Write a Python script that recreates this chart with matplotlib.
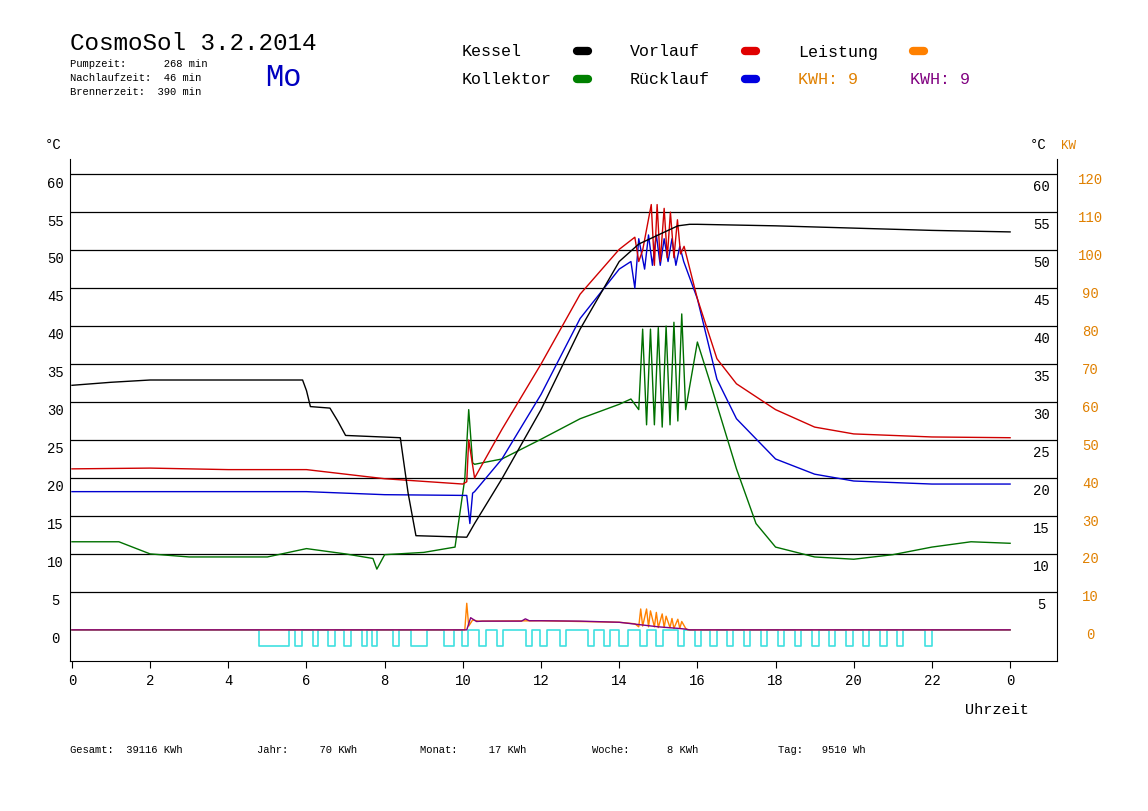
import matplotlib.pyplot as plt

plt.rcParams['font.family'] = ['Liberation Mono', 'DejaVu Sans Mono']

# Temperaturen (°C) über Uhrzeit (h)
kessel_t = [0, 1, 2, 4, 5.9, 6.0, 6.1, 6.6, 6.8, 7.0, 8.4, 8.6, 8.8, 10.1, 10.3, 11, 12, 13, 14, 14.5, 15, 15.5, 15.8, 16, 18, 20, 22, 24]
kessel_v = [32.2, 32.6, 32.9, 32.9, 32.9, 31.5, 29.4, 29.2, 27.5, 25.6, 25.3, 18, 12.4, 12.2, 14.0, 19.9, 29.0, 39.6, 48.5, 50.8, 52.0, 53.2, 53.4, 53.4, 53.2, 52.9, 52.6, 52.4]

vorlauf_t = [0, 2, 4, 6, 8, 10, 10.1, 10.15, 10.3, 11, 12, 13, 14, 14.4, 14.5, 14.6, 14.82, 14.9, 14.97, 15.05, 15.15, 15.23, 15.31, 15.4, 15.49, 15.57, 15.66, 16, 16.5, 17, 18, 19, 20, 22, 24]
vorlauf_v = [21.2, 21.3, 21.1, 21.1, 19.9, 19.2, 19.5, 25.0, 20.0, 26.4, 35.0, 44.2, 50.1, 51.7, 48.5, 50, 56.0, 48.0, 56.0, 48.5, 55.5, 49, 55.0, 49, 54.0, 49.5, 50.5, 43.6, 35.7, 32.4, 29.0, 26.7, 25.8, 25.4, 25.3]

ruecklauf_t = [0, 6, 8, 10.1, 10.18, 10.25, 10.3, 11, 12, 13, 14, 14.3, 14.4, 14.5, 14.65, 14.75, 14.85, 14.95, 15.05, 15.15, 15.25, 15.35, 15.45, 15.55, 15.65, 16, 16.5, 17, 18, 19, 20, 22, 24]
ruecklauf_v = [18.2, 18.2, 17.8, 17.7, 14.0, 18.0, 18.2, 22.5, 31.0, 41.0, 47.5, 48.5, 45.0, 51.5, 47.5, 52.0, 48.0, 52.0, 48.0, 51.5, 48.5, 51.5, 48.0, 50.5, 48.5, 43.6, 33.0, 27.8, 22.5, 20.5, 19.6, 19.2, 19.2]

kollektor_t = [0, 1.2, 2, 3, 5, 6, 7, 7.7, 7.8, 8, 9, 9.8, 10.05, 10.15, 10.25, 10.3, 11, 12, 13, 14, 14.3, 14.5, 14.6, 14.7, 14.8, 14.9, 15.0, 15.1, 15.2, 15.3, 15.4, 15.5, 15.6, 15.7, 16, 16.3, 17, 17.5, 18, 19, 20, 21, 22, 23, 24]
kollektor_v = [11.6, 11.6, 10.0, 9.6, 9.6, 10.7, 10.0, 9.4, 8.0, 9.9, 10.2, 10.9, 19.9, 29.0, 22.0, 21.8, 22.5, 25.1, 27.8, 29.7, 30.4, 29.0, 39.6, 27.0, 39.6, 27.0, 39.8, 26.7, 40.0, 27.0, 40.5, 27.5, 41.6, 29.0, 37.9, 33.0, 21.2, 14.0, 10.9, 9.6, 9.3, 9.9, 10.9, 11.6, 11.4]

# Leistung (KW) und kWh-Verlauf, rechte Achse
leistung_t = [0, 10.05, 10.1, 10.15, 10.25, 10.4, 12, 14, 14.4, 14.5, 14.55, 14.6, 14.7, 14.75, 14.8, 14.9, 14.95, 15.0, 15.1, 15.15, 15.2, 15.3, 15.35, 15.4, 15.5, 15.55, 15.6, 15.7, 15.75, 24]
leistung_v = [0, 0, 7.0, 1.0, 2.6, 2.3, 2.4, 2.0, 1.6, 0.8, 5.5, 1.0, 5.5, 0.8, 5.0, 0.8, 4.6, 0.6, 4.2, 0.6, 3.6, 0.6, 3.0, 0.4, 2.8, 0.4, 2.2, 0.4, 0, 0]
kwh_t = [0, 10.1, 10.2, 10.35, 10.5, 11.5, 11.6, 11.7, 12, 13, 14, 14.5, 15, 15.5, 15.7, 15.8, 24]
kwh_v = [0, 0, 3.2, 2.2, 2.3, 2.3, 2.9, 2.4, 2.4, 2.3, 2.0, 1.4, 0.8, 0.4, 0.2, 0, 0]

# Pumpe: Einschaltintervalle (h)
pumpe_an = [(4.78, 5.55), (5.71, 5.89), (6.17, 6.30), (6.55, 6.73), (6.96, 7.14), (7.42, 7.55),
            (7.68, 7.80), (8.21, 8.37), (8.67, 9.08), (9.52, 9.77), (9.98, 10.13), (10.41, 10.59),
            (10.87, 11.03), (11.62, 11.77), (11.98, 12.15), (12.49, 12.64), (13.20, 13.36),
            (13.61, 13.77), (14.0, 14.23), (14.53, 14.71), (14.94, 15.12), (15.51, 15.66),
            (15.94, 16.10), (16.33, 16.50), (16.75, 16.92), (17.18, 17.35), (17.62, 17.78),
            (18.06, 18.22), (18.50, 18.66), (18.93, 19.10), (19.37, 19.53), (19.80, 19.97),
            (20.24, 20.40), (20.67, 20.84), (21.11, 21.27), (21.83, 22.00)]

stunden = list(range(0, 25, 2))
stunden_labels = [str(h) for h in range(0, 24, 2)] + ['0']

fig = plt.figure(figsize=(11.48, 8.12), dpi=100)
ax = fig.add_axes([70 / 1148, 1 - 662 / 812, (1057 - 70) / 1148, (662 - 160) / 812])
ax.set_xlim(-0.05, 25.2)
ax.set_ylim(-4.1, 62)

for g in range(5, 65, 5):
    ax.axhline(g, color='black', lw=0.9)

# Pumpensignal als Rechteckzug
px, py = [0], [0]
for a, b in pumpe_an:
    px += [a, a, b, b]
    py += [0, -2.1, -2.1, 0]
px.append(24)
py.append(0)
ax.plot(px, py, color='#40e0e0', lw=1.2)

ax.plot(leistung_t, [v / 2 for v in leistung_v], color='#ff8000', lw=1)
ax.plot(kwh_t, [v / 2 for v in kwh_v], color='#800080', lw=1)
ax.plot(kollektor_t, kollektor_v, color='#007000', lw=1)
ax.plot(ruecklauf_t, ruecklauf_v, color='#0000d0', lw=1)
ax.plot(vorlauf_t, vorlauf_v, color='#d00000', lw=1)
ax.plot(kessel_t, kessel_v, color='black', lw=1)

ax.spines['top'].set_visible(False)
ax.set_xticks(stunden)
ax.set_xticklabels(stunden_labels, fontsize=10)
ax.tick_params(axis='x', length=5, direction='out')
ax.set_yticks([])

for g in range(0, 65, 5):
    ax.text(-0.42, g - 1.1, str(g), ha='center', va='center', fontsize=10)
    if g > 0:
        ax.text(24.8, g - 1.6, str(g), ha='center', va='center', fontsize=10)
    ax.text(26.05, g - 0.6, str(2 * g), ha='center', va='center', fontsize=10, color='#e08000')

ax.text(-0.7, 63.5, '°C', fontsize=10, clip_on=False)
ax.text(24.5, 63.5, '°C', fontsize=10, clip_on=False)
ax.text(25.3, 63.5, 'KW', fontsize=9, color='#e08000', clip_on=False)

fig.text(70 / 1148, 1 - 43 / 812, 'CosmoSol 3.2.2014', fontsize=17.5, va='center')
fig.text(70 / 1148, 1 - 64 / 812, 'Pumpzeit:      268 min', fontsize=7.6, va='center')
fig.text(70 / 1148, 1 - 78 / 812, 'Nachlaufzeit:  46 min', fontsize=7.6, va='center')
fig.text(70 / 1148, 1 - 92 / 812, 'Brennerzeit:  390 min', fontsize=7.6, va='center')
fig.text(265 / 1148, 1 - 78 / 812, 'Mo', fontsize=22, va='center', color='#0000c0')

legende = [('Kessel', 'black', 462, 52), ('Vorlauf', '#e00000', 630, 52), ('Leistung', '#ff8000', 798, 52),
           ('Kollektor', '#008000', 462, 80), ('Rücklauf', '#0000e0', 630, 80)]
for name, col, x, y in legende:
    fig.text(x / 1148, 1 - y / 812, name, fontsize=12, va='center')
    fig.add_artist(plt.Line2D([(x + 115) / 1148, (x + 126) / 1148], [1 - y / 812] * 2,
                              color=col, lw=6, solid_capstyle='round'))
fig.text(798 / 1148, 1 - 80 / 812, 'KWH: 9', fontsize=12, va='center', color='#e08000')
fig.text(910 / 1148, 1 - 80 / 812, 'KWH: 9', fontsize=12, va='center', color='#800080')

fig.text(965 / 1148, 1 - 710 / 812, 'Uhrzeit', fontsize=11, va='center')
summen = [('Gesamt:  39116 KWh', 70), ('Jahr:     70 KWh', 257), ('Monat:     17 KWh', 420),
          ('Woche:      8 KWh', 592), ('Tag:   9510 Wh', 778)]
for txt, x in summen:
    fig.text(x / 1148, 1 - 750 / 812, txt, fontsize=7.6, va='center')

fig.savefig('out.png', dpi=100)
